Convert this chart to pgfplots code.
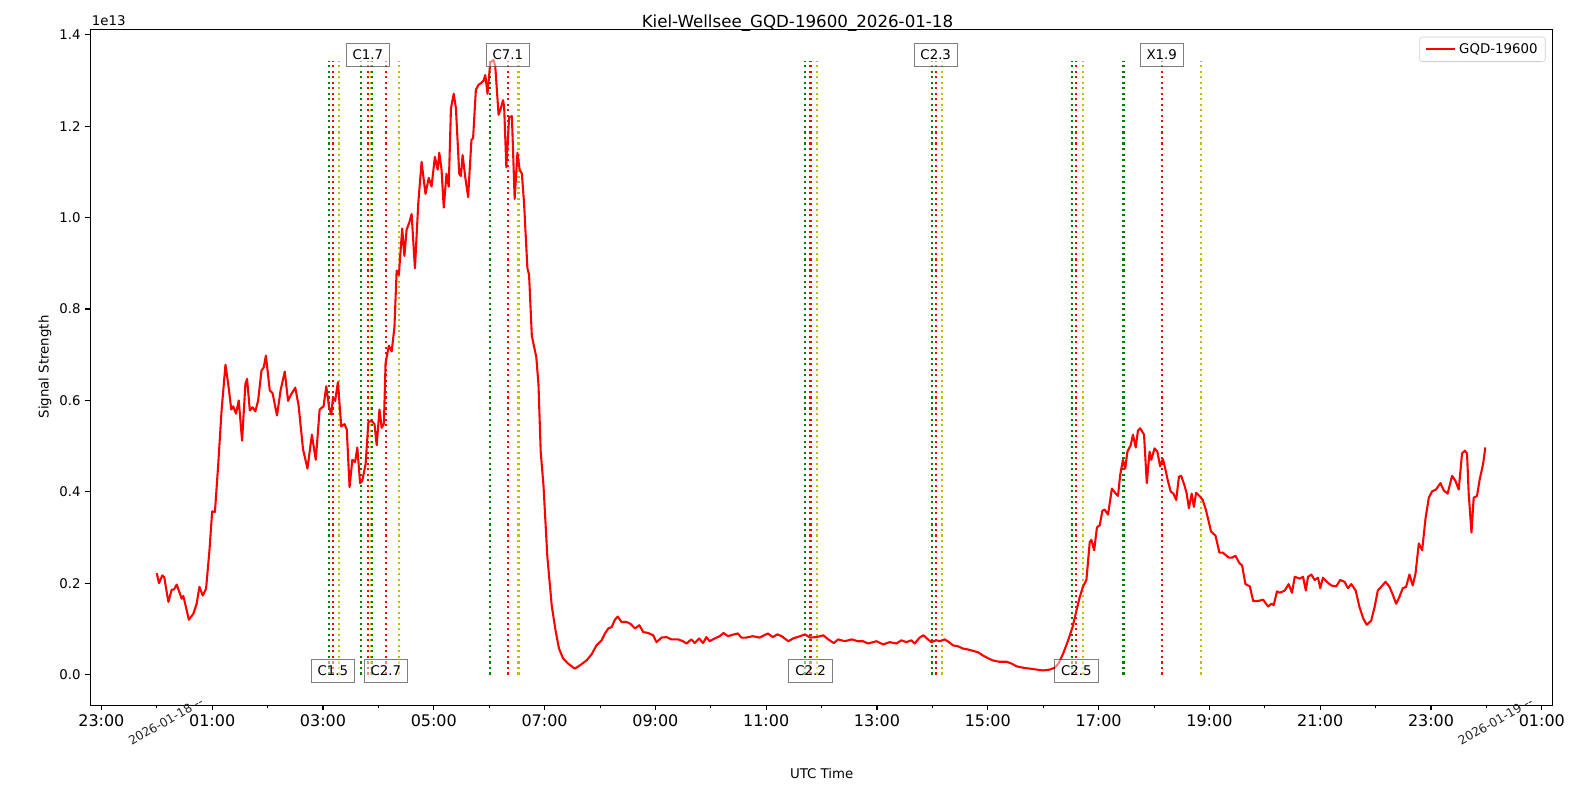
\documentclass[border=0pt]{standalone}
\usepackage{pgfplots}
\pgfplotsset{compat=1.18}
\usepackage{fontspec}
\setmainfont{DejaVu Sans}
\definecolor{mplgreen}{rgb}{0,0.5,0}
\definecolor{mplred}{rgb}{1,0,0}
\definecolor{mplyellow}{rgb}{0.75,0.75,0}
\begin{document}
\begin{tikzpicture}
\useasboundingbox (0,0) rectangle (1148.4pt,570.24pt);
\begin{axis}[
  at={(65pt,62.4pt)}, anchor=south west,
  scale only axis, width=1053.1pt, height=486.7pt,
  xmin=-1.2, xmax=25.2, ymin=-0.0673, ymax=1.412,
  axis line style={line width=0.8pt},
  tick align=outside,
  xtick pos=lower, ytick pos=left,
  xtick={-1,1,3,5,7,9,11,13,15,17,19,21,23,25},
  xticklabels={23:00,01:00,03:00,05:00,07:00,09:00,11:00,13:00,15:00,17:00,19:00,21:00,23:00,01:00},
  minor xtick={0,2,4,6,8,10,12,14,16,18,20,22,24},
  ytick={0,0.2,0.4,0.6,0.8,1.0,1.2,1.4},
  yticklabel style={/pgf/number format/fixed, /pgf/number format/fixed zerofill, /pgf/number format/precision=1},
  /pgf/number format/assume math mode=true,
  major tick length=3.5pt, minor tick length=2pt,
  every major tick/.style={line width=0.8pt, black},
  every minor tick/.style={line width=0.6pt, black},
  xticklabel style={font=\fontsize{11.5}{13}\selectfont},
  yticklabel style={font=\fontsize{9.6}{11}\selectfont},
  extra x ticks={0,24},
  extra x tick labels={2026-01-18 -{}-,2026-01-19 -{}-},
  extra x tick style={major tick length=0pt, xticklabel style={rotate=30, anchor=center, yshift=-13pt, font=\fontsize{8.8}{10}\selectfont, text=black!85}},
  legend style={at={(1,1)}, anchor=north east, xshift=-5.3pt, yshift=-5.3pt,
    draw=black!20, rounded corners=2pt, fill=white, fill opacity=0.8, text opacity=1,
    font=\fontsize{9.6}{11}\selectfont, inner xsep=3.6pt, inner ysep=2.5pt},
  legend cell align=left,
  legend image code/.code={\draw[mplred, line width=1.5pt] (0pt,0pt) -- (21.4pt,0pt);},
  clip=false,
]
% flare lines: start (green), peak (red), end (yellow)
\pgfplotsset{flare/.style={forget plot, line width=1.5pt, dash pattern=on 1.5pt off 2.475pt}}
% C1.5
\addplot[flare, mplgreen] coordinates {(3.107,0) (3.107,1.343)};
\addplot[flare, mplred] coordinates {(3.18,0) (3.18,1.343)};
\addplot[flare, mplyellow] coordinates {(3.29,0) (3.29,1.343)};
% C1.7
\addplot[flare, mplgreen] coordinates {(3.685,0) (3.685,1.343)};
\addplot[flare, mplred] coordinates {(3.81,0) (3.81,1.343)};
\addplot[flare, mplyellow] coordinates {(3.875,0) (3.875,1.343)};
% C2.7
\addplot[flare, mplgreen] coordinates {(3.88,0) (3.88,1.343)};
\addplot[flare, mplred] coordinates {(4.135,0) (4.135,1.343)};
\addplot[flare, mplyellow] coordinates {(4.37,0) (4.37,1.343)};
% C7.1
\addplot[flare, mplgreen] coordinates {(6.01,0) (6.01,1.343)};
\addplot[flare, mplred] coordinates {(6.337,0) (6.337,1.343)};
\addplot[flare, mplyellow] coordinates {(6.53,0) (6.53,1.343)};
% C2.2
\addplot[flare, mplgreen] coordinates {(11.696,0) (11.696,1.343)};
\addplot[flare, mplred] coordinates {(11.80,0) (11.80,1.343)};
\addplot[flare, mplyellow] coordinates {(11.91,0) (11.91,1.343)};
% C2.3
\addplot[flare, mplgreen] coordinates {(13.987,0) (13.987,1.343)};
\addplot[flare, mplred] coordinates {(14.06,0) (14.06,1.343)};
\addplot[flare, mplyellow] coordinates {(14.17,0) (14.17,1.343)};
% C2.5
\addplot[flare, mplgreen] coordinates {(16.514,0) (16.514,1.343)};
\addplot[flare, mplred] coordinates {(16.60,0) (16.60,1.343)};
\addplot[flare, mplyellow] coordinates {(16.71,0) (16.71,1.343)};
% X1.9
\addplot[flare, mplgreen] coordinates {(17.45,0) (17.45,1.343)};
\addplot[flare, mplred] coordinates {(18.14,0) (18.14,1.343)};
\addplot[flare, mplyellow] coordinates {(18.84,0) (18.84,1.343)};

\addplot[mplred, line width=1.5pt, line join=round] coordinates {
(0.00,0.222) (0.04,0.200) (0.10,0.217) (0.135,0.213) (0.21,0.159) (0.27,0.186) (0.31,0.186) (0.36,0.197)
(0.45,0.166) (0.48,0.172) (0.58,0.120) (0.66,0.133) (0.72,0.155) (0.77,0.192) (0.83,0.173) (0.89,0.188)
(0.95,0.270) (1.00,0.357) (1.05,0.356) (1.11,0.461) (1.17,0.578) (1.24,0.678) (1.29,0.636) (1.345,0.580)
(1.38,0.587) (1.43,0.571) (1.48,0.600) (1.54,0.512) (1.60,0.636) (1.63,0.647) (1.68,0.578) (1.73,0.585)
(1.78,0.576) (1.83,0.600) (1.89,0.665) (1.93,0.672) (1.97,0.698) (2.04,0.622) (2.09,0.616) (2.17,0.567)
(2.235,0.622) (2.31,0.663) (2.37,0.599) (2.42,0.612) (2.50,0.628) (2.56,0.589) (2.64,0.493) (2.72,0.451)
(2.80,0.525) (2.87,0.470) (2.94,0.580) (3.01,0.587) (3.06,0.631) (3.11,0.585) (3.15,0.569) (3.18,0.606)
(3.22,0.599) (3.27,0.640) (3.33,0.543) (3.39,0.548) (3.43,0.536) (3.48,0.410) (3.53,0.470) (3.58,0.465)
(3.62,0.497) (3.67,0.419) (3.71,0.424) (3.77,0.461) (3.82,0.553) (3.88,0.555) (3.93,0.548) (3.97,0.502)
(4.02,0.580) (4.06,0.540) (4.10,0.549) (4.13,0.682) (4.19,0.720) (4.24,0.707) (4.29,0.760) (4.33,0.884)
(4.37,0.875) (4.43,0.976) (4.47,0.916) (4.51,0.974) (4.56,0.990) (4.60,1.008) (4.66,0.889) (4.72,1.031)
(4.78,1.122) (4.85,1.052) (4.91,1.087) (4.96,1.068) (5.02,1.133) (5.07,1.105) (5.10,1.142) (5.14,1.105)
(5.18,1.022) (5.23,1.096) (5.27,1.068) (5.31,1.239) (5.36,1.271) (5.40,1.239) (5.46,1.096) (5.49,1.091)
(5.52,1.137) (5.57,1.087) (5.62,1.045) (5.68,1.170) (5.71,1.174) (5.76,1.280) (5.81,1.291) (5.85,1.294)
(5.90,1.300) (5.93,1.312) (5.97,1.271) (6.02,1.340) (6.08,1.345) (6.11,1.331) (6.17,1.225) (6.21,1.239)
(6.25,1.257) (6.27,1.243) (6.31,1.110) (6.36,1.220) (6.41,1.222) (6.46,1.041) (6.51,1.142) (6.55,1.105)
(6.59,1.096) (6.63,1.031) (6.69,0.889) (6.72,0.875) (6.77,0.741) (6.85,0.695) (6.89,0.635) (6.93,0.488)
(6.98,0.414) (7.05,0.258) (7.13,0.150) (7.20,0.095) (7.26,0.057) (7.335,0.035) (7.425,0.024) (7.546,0.013)
(7.636,0.020) (7.757,0.031) (7.847,0.044) (7.937,0.064) (8.03,0.075) (8.09,0.090) (8.15,0.101) (8.21,0.104)
(8.27,0.120) (8.32,0.127) (8.39,0.115) (8.48,0.115) (8.55,0.111) (8.63,0.101) (8.71,0.108) (8.78,0.093)
(8.87,0.091) (8.96,0.086) (9.02,0.071) (9.11,0.081) (9.20,0.082) (9.29,0.077) (9.41,0.077) (9.50,0.073)
(9.56,0.068) (9.65,0.077) (9.71,0.069) (9.79,0.079) (9.86,0.069) (9.92,0.082) (9.98,0.073) (10.07,0.079)
(10.16,0.084) (10.23,0.091) (10.31,0.084) (10.39,0.087) (10.49,0.090) (10.55,0.081) (10.64,0.081) (10.76,0.084)
(10.88,0.081) (11.03,0.090) (11.12,0.082) (11.20,0.088) (11.28,0.084) (11.40,0.073) (11.485,0.079) (11.61,0.084)
(11.70,0.088) (11.79,0.081) (11.91,0.082) (12.03,0.086) (12.12,0.077) (12.22,0.069) (12.30,0.077) (12.42,0.073)
(12.54,0.077) (12.66,0.073) (12.75,0.073) (12.84,0.068) (12.99,0.073) (13.11,0.066) (13.23,0.071) (13.35,0.068)
(13.44,0.075) (13.53,0.071) (13.62,0.075) (13.68,0.068) (13.77,0.081) (13.84,0.086) (13.90,0.079) (13.98,0.071)
(14.07,0.075) (14.14,0.073) (14.22,0.077) (14.30,0.071) (14.37,0.064) (14.46,0.062) (14.55,0.057) (14.64,0.055)
(14.73,0.052) (14.82,0.049) (14.91,0.042) (15.00,0.036) (15.09,0.031) (15.21,0.028) (15.34,0.028) (15.43,0.024)
(15.52,0.018) (15.64,0.015) (15.76,0.013) (15.88,0.011) (16.00,0.009) (16.12,0.011) (16.21,0.015) (16.28,0.025)
(16.36,0.046) (16.45,0.075) (16.53,0.104) (16.60,0.140) (16.66,0.170) (16.72,0.193) (16.78,0.207) (16.84,0.290)
(16.87,0.295) (16.92,0.272) (16.97,0.322) (17.02,0.327) (17.07,0.359) (17.11,0.361) (17.17,0.350) (17.24,0.407)
(17.31,0.396) (17.35,0.391) (17.39,0.437) (17.44,0.470) (17.48,0.451) (17.52,0.488) (17.58,0.502) (17.62,0.525)
(17.67,0.497) (17.71,0.534) (17.75,0.539) (17.82,0.525) (17.87,0.419) (17.92,0.488) (17.95,0.470) (18.01,0.495)
(18.06,0.488) (18.11,0.456) (18.16,0.472) (18.21,0.447) (18.25,0.424) (18.30,0.401) (18.35,0.396) (18.40,0.382)
(18.45,0.433) (18.49,0.435) (18.55,0.414) (18.59,0.396) (18.63,0.364) (18.68,0.396) (18.72,0.367) (18.76,0.398)
(18.82,0.391) (18.88,0.382) (18.94,0.359) (19.03,0.313) (19.11,0.304) (19.18,0.267) (19.24,0.267) (19.35,0.256)
(19.41,0.256) (19.47,0.260) (19.54,0.244) (19.59,0.239) (19.65,0.198) (19.73,0.193) (19.79,0.161) (19.88,0.161)
(19.97,0.164) (20.01,0.157) (20.06,0.149) (20.12,0.155) (20.16,0.152) (20.22,0.182) (20.27,0.179) (20.36,0.184)
(20.43,0.198) (20.49,0.179) (20.54,0.214) (20.63,0.210) (20.69,0.214) (20.74,0.184) (20.78,0.214) (20.84,0.219)
(20.90,0.207) (20.96,0.212) (21.00,0.189) (21.05,0.212) (21.12,0.203) (21.20,0.195) (21.29,0.193) (21.36,0.207)
(21.44,0.203) (21.50,0.189) (21.56,0.198) (21.64,0.184) (21.71,0.147) (21.78,0.122) (21.84,0.109) (21.92,0.118)
(21.98,0.147) (22.04,0.184) (22.10,0.192) (22.18,0.203) (22.25,0.192) (22.31,0.175) (22.37,0.155) (22.43,0.170)
(22.49,0.189) (22.55,0.192) (22.61,0.219) (22.67,0.195) (22.72,0.221) (22.78,0.287) (22.84,0.272) (22.90,0.341)
(22.96,0.387) (23.02,0.401) (23.09,0.405) (23.17,0.419) (23.23,0.403) (23.30,0.396) (23.38,0.435) (23.44,0.424)
(23.50,0.405) (23.56,0.484) (23.61,0.490) (23.65,0.484) (23.68,0.396) (23.73,0.311) (23.77,0.387) (23.83,0.391)
(23.88,0.428) (23.94,0.461) (23.98,0.497)
};
\addlegendentry{GQD-19600}

% flare labels
\tikzset{flab/.style={fill=white, fill opacity=0.5, draw=black, draw opacity=0.5, line width=0.8pt, text opacity=1,
  inner xsep=4.6pt, inner ysep=4.8pt, font=\fontsize{9.6}{11}\selectfont, anchor=center}}
\node[flab] at (axis cs:3.18,0.008) {C1.5};
\node[flab] at (axis cs:3.81,1.356) {C1.7};
\node[flab] at (axis cs:4.135,0.008) {C2.7};
\node[flab] at (axis cs:6.337,1.356) {C7.1};
\node[flab] at (axis cs:11.80,0.008) {C2.2};
\node[flab] at (axis cs:14.06,1.356) {C2.3};
\node[flab] at (axis cs:16.60,0.008) {C2.5};
\node[flab] at (axis cs:18.14,1.356) {X1.9};
\end{axis}
\node[anchor=base, font=\fontsize{12}{14}\selectfont] at (574.2pt,550.3pt) {Kiel-Wellsee\_GQD-19600\_2026-01-18};
\node[anchor=base west, inner sep=0pt, font=\fontsize{9.6}{11}\selectfont] at (66pt,552.2pt) {1e13};
\node[anchor=center, font=\fontsize{9.6}{11}\selectfont] at (591.6pt,13pt) {UTC Time};
\node[anchor=center, rotate=90, font=\fontsize{9.6}{11}\selectfont] at (32.4pt,306pt) {Signal Strength};
\end{tikzpicture}
\end{document}
